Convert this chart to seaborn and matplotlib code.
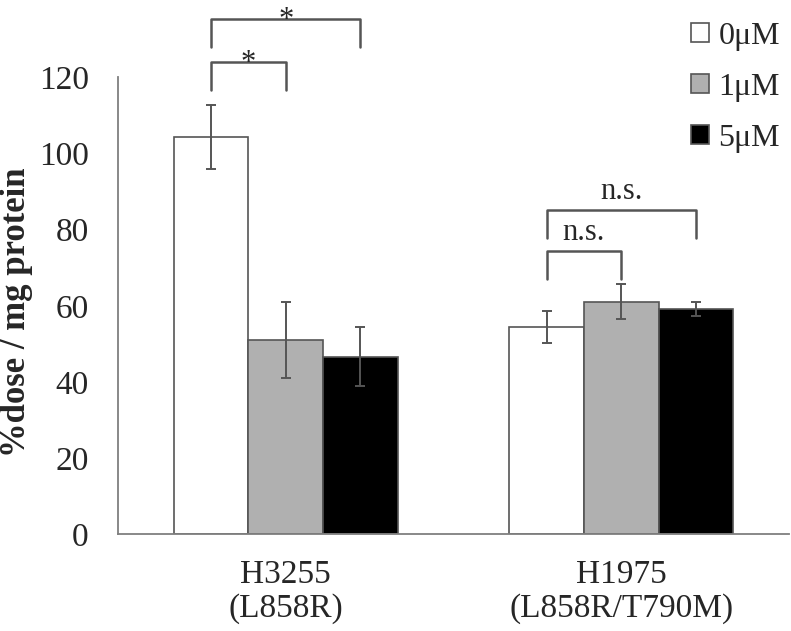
import matplotlib
matplotlib.use("Agg")
import matplotlib.pyplot as plt
import pandas as pd
import seaborn as sns

# Valores
cells = ["H3255\n(L858R)", "H1975\n(L858R/T790M)"]
doses = ["0μM", "1μM", "5μM"]
means_h3255 = [104.3, 51.0, 46.6]
means_h1975 = [54.3, 61.1, 59.2]
sd_h3255 = [8.4, 10.0, 7.7]
sd_h1975 = [4.2, 4.5, 1.9]

# Comparações: (célula, dose a, dose b, altura do colchete, rótulo)
comp_cell = [0, 0, 1, 1]
comp_a = [0, 0, 0, 0]
comp_b = [1, 2, 1, 2]
comp_top = [124.2, 135.5, 74.4, 85.2]
comp_label = ["*", "*", "n.s.", "n.s."]

rows = []
for cell, means, sds in [(cells[0], means_h3255, sd_h3255), (cells[1], means_h1975, sd_h1975)]:
    for d, m, s in zip(doses, means, sds):
        rows.append({"cell": cell, "dose": d, "value": m, "sd": s})
df = pd.DataFrame(rows)

sns.set_style("white")
plt.rcParams["font.family"] = ["Liberation Serif", "DejaVu Serif"]

fig = plt.figure(figsize=(7.91, 6.31), dpi=100)
ax = fig.add_axes([0.1492, 0.1537, 0.8483, 0.7235])

sns.barplot(data=df, x="cell", y="value", hue="dose", order=cells, hue_order=doses,
            palette=["white", "#b0b0b0", "black"], edgecolor="#555555", linewidth=1.2,
            width=0.667, errorbar=None, ax=ax)

# Barras de erro a partir dos desvios
bar_containers = list(ax.containers)
centers = {}
for j, cont in enumerate(bar_containers):
    for i, bar in enumerate(cont):
        x = bar.get_x() + bar.get_width() / 2
        centers[(i, j)] = x
        sub = df[(df["cell"] == cells[i]) & (df["dose"] == doses[j])].iloc[0]
        ax.errorbar(x, sub["value"], yerr=sub["sd"], fmt="none", ecolor="#555555",
                    elinewidth=1.4, capsize=3.5, capthick=1.4, zorder=5)

# Colchetes de significância
for c, a, b, top, lab in zip(comp_cell, comp_a, comp_b, comp_top, comp_label):
    x1, x2 = centers[(c, a)], centers[(c, b)]
    ax.plot([x1, x1, x2, x2], [top - 7.4, top, top, top - 7.4], color="#555555",
            lw=1.8, clip_on=False)
    off = -2.5 if lab == "*" else 2.8
    ax.text((x1 + x2) / 2, top + off, lab, ha="center", va="baseline",
            fontsize=22, clip_on=False)

ax.set_xlim(-0.5, 1.5)
ax.set_ylim(0, 120)
ax.set_yticks(range(0, 121, 20))
ax.set_xlabel("")
ax.set_ylabel("%dose / mg protein", fontweight="bold", fontsize=25)
ax.yaxis.set_label_coords(-0.127, 0.485)

ax.tick_params(axis="y", direction="in", length=7.2, width=1.2, color="#7f7f7f",
               labelsize=24, pad=21)
ax.tick_params(axis="x", length=0, labelsize=24, pad=18)
for t in ax.get_xticklabels():
    t.set_linespacing(1.17)

for s in ["top", "right"]:
    ax.spines[s].set_visible(False)
for s in ["left", "bottom"]:
    ax.spines[s].set_color("#7f7f7f")
    ax.spines[s].set_linewidth(1.3)

sns.move_legend(ax, "upper right", bbox_to_anchor=(780 / 791, 1 - 22 / 631),
                bbox_transform=fig.transFigure, title=None, frameon=False,
                fontsize=23, handlelength=0.55, handleheight=0.55,
                handletextpad=0.3, labelspacing=0.69, borderpad=0, borderaxespad=0)

fig.savefig("out.png", dpi=100)
